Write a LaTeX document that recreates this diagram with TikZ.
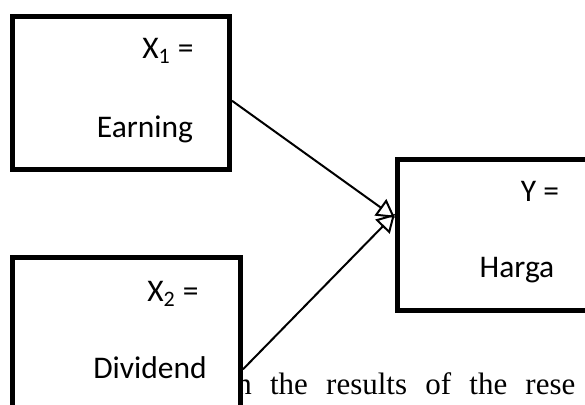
\documentclass[tikz,border=0pt]{standalone}
\usepackage{fontspec}
\setmainfont{Carlito}
\newfontfamily\bodyfont[WordSpace=2.35]{Liberation Serif}
\usepackage{tikz}
\usetikzlibrary{arrows.meta,positioning,fit}

\begin{document}
\begin{tikzpicture}[x=0.5pt,y=-0.5pt,>={Triangle[open,length=9pt,width=10pt]}, every node/.style={font=\fontsize{15.75}{18}\selectfont}]
\tikzstyle{box}=[draw,line width=2.5pt,fill=white,inner sep=0pt]
\tikzstyle{lbl}=[anchor=base,inner sep=0pt]
\useasboundingbox (0,0) rectangle (585,405);
\clip (0,0) rectangle (585,405);
% running text behind the lower box
\node[anchor=base west,inner sep=0pt,font=\bodyfont\fontsize{15.5}{19}\selectfont] (body) at (236,395) {n the results of the rese};
\node[box,fit={(12.5,16.5) (229.5,169.5)}] (earning) {};
\node[box,fit={(12.5,257.5) (240.5,440)}] (dividend) {};
\node[box,fit={(397.5,159.5) (610,310.5)}] (harga) {};
\node[lbl] (x1) at (168,59) {X\textsubscript{1} =};
\node[lbl] (earnlbl) at (145,138) {Earning};
\node[lbl] (x2) at (173,302) {X\textsubscript{2} =};
\node[lbl] (divlbl) at (150,379) {Dividend};
\node[lbl] (ylbl) at (540,202) {Y =};
\node[lbl] (hargalbl) at (517,278) {Harga};
\draw[->,line width=1pt] (earning.-4) -- (harga.171);
\draw[->,line width=1pt] (dividend.-10) -- (harga.169);
\end{tikzpicture}
\end{document}
